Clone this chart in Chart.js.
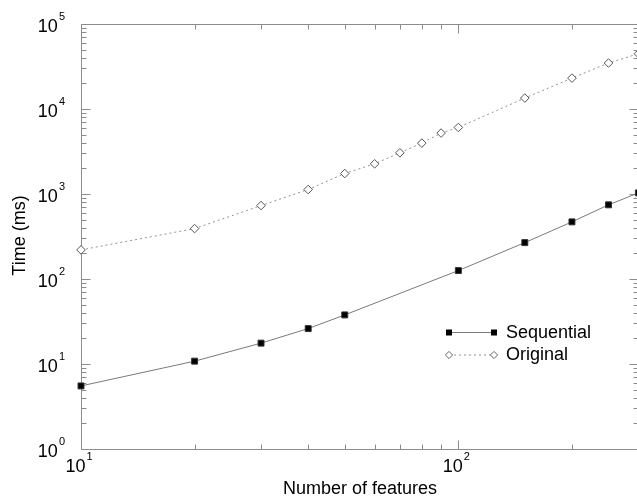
<!DOCTYPE html>
<html><head><meta charset="utf-8">
<script src="https://cdn.jsdelivr.net/npm/chart.js@4"></script>
<style>html,body{margin:0;padding:0;overflow:hidden;background:#fff;width:637px;height:498px}
#clip{position:relative;width:637px;height:498px;overflow:hidden}
#wrap{position:absolute;left:0;top:0;width:640px;height:498px}canvas{display:block}</style>
</head><body>
<div id="clip"><div id="wrap"><canvas id="c"></canvas></div></div>
<script>
// ---- data ----
const seqX  = [10, 20, 30, 40, 50, 100, 150, 200, 250, 300];
const seqY  = [5.52, 10.8, 17.6, 26.1, 37.8, 125.6, 268, 470, 746, 1030];
const origX = [10, 20, 30, 40, 50, 60, 70, 80, 90, 100, 150, 200, 250, 300];
const origY = [220, 392, 731, 1129, 1742, 2266, 3053, 3970, 5210, 6065, 13450, 23100, 34750, 44700];
const seriesNames = ['Sequential', 'Original'];
const xMajorTicks = [10, 100];
const xMajorExps  = ['1', '2'];
const xMinorTicks = [20, 30, 40, 50, 60, 70, 80, 90, 200, 300];
const yMajorTicks = [1, 10, 100, 1000, 10000, 100000];
const yMajorExps  = ['0', '1', '2', '3', '4', '5'];
const yMinorMult  = [2, 3, 4, 5, 6, 7, 8, 9];
const xTitle = 'Number of features';
const yTitle = 'Time (ms)';

const FONT = '"Liberation Sans", Arial, Helvetica, sans-serif';
const AXIS = '#8c8c8c';

const decor = {
  id: 'decor',
  beforeDatasetsDraw(chart) {
    const {ctx, chartArea: a, scales: {x, y}} = chart;
    const L = Math.floor(a.left) + 0.5, R = Math.floor(a.right) + 0.5;
    const T = Math.floor(a.top) + 0.5, B = Math.floor(a.bottom) + 0.5;
    ctx.save();
    ctx.strokeStyle = AXIS; ctx.lineWidth = 1;
    ctx.beginPath();
    ctx.rect(L, T, R - L, B - T);
    const yTick = (v, len) => {
      const py = Math.round(y.getPixelForValue(v)) + 0.5;
      ctx.moveTo(L, py); ctx.lineTo(L + len, py);
      ctx.moveTo(R, py); ctx.lineTo(R - len, py);
    };
    yMajorTicks.forEach(v => yTick(v, 9));
    yMajorTicks.slice(0, -1).forEach(d => yMinorMult.forEach(m => yTick(d * m, 5)));
    const xTick = (v, len) => {
      const px = Math.round(x.getPixelForValue(v)) + 0.5;
      ctx.moveTo(px, B); ctx.lineTo(px, B - len);
      ctx.moveTo(px, T); ctx.lineTo(px, T + len);
    };
    xMajorTicks.forEach(v => xTick(v, 9));
    xMinorTicks.forEach(v => xTick(v, 5));
    ctx.stroke();
    ctx.restore();
  },
  afterDatasetsDraw(chart) {
    const {ctx, chartArea: a, scales: {x, y}} = chart;
    ctx.save();
    ctx.fillStyle = '#000';
    ctx.textBaseline = 'alphabetic';
    ctx.textAlign = 'left';
    const baseF = '18px ' + FONT, expF = '11px ' + FONT;
    const measure = (b, e) => {
      ctx.font = baseF; const bw = ctx.measureText(b).width;
      ctx.font = expF; const ew = ctx.measureText(e).width;
      return [bw, ew];
    };
    const drawPow = (sx, baseY, b, e, bw) => {
      ctx.font = baseF; ctx.fillText(b, sx, baseY);
      ctx.font = expF; ctx.fillText(e, sx + bw + 1, baseY - 12);
    };
    yMajorTicks.forEach((v, i) => {
      const py = y.getPixelForValue(v);
      const [bw, ew] = measure('10', yMajorExps[i]);
      drawPow(65 - (bw + 1 + ew), py + 7.5, '10', yMajorExps[i], bw);
    });
    xMajorTicks.forEach((v, i) => {
      const px = x.getPixelForValue(v);
      const [bw, ew] = measure('10', xMajorExps[i]);
      const w = bw + 1 + ew;
      drawPow(px - 2 - w / 2, a.bottom + 23, '10', xMajorExps[i], bw);
    });
    ctx.font = '18px ' + FONT;
    ctx.textAlign = 'center';
    ctx.fillText(xTitle, 360, 494);
    ctx.save();
    ctx.translate(25, (a.top + a.bottom) / 2 - 1);
    ctx.rotate(-Math.PI / 2);
    ctx.fillText(yTitle, 0, 0);
    ctx.restore();
    const ds = chart.data.datasets;
    const rows = [332, 354.5];
    const x0 = 449, x1 = 494;
    rows.forEach((ry, i) => {
      const d = ds[i];
      ctx.save();
      ctx.strokeStyle = d.borderColor; ctx.lineWidth = 1;
      ctx.setLineDash(d.borderDash || []);
      ctx.beginPath(); ctx.moveTo(x0, ry + 0.5); ctx.lineTo(x1, ry + 0.5); ctx.stroke();
      ctx.setLineDash([]);
      [x0, x1].forEach(mx => {
        if (i === 0) {
          ctx.fillStyle = '#000';
          ctx.fillRect(mx - 3, ry - 2.5, 6, 6);
        } else {
          const r = 3.6;
          ctx.beginPath();
          ctx.moveTo(mx, ry + 0.5 - r); ctx.lineTo(mx + r, ry + 0.5);
          ctx.lineTo(mx, ry + 0.5 + r); ctx.lineTo(mx - r, ry + 0.5); ctx.closePath();
          ctx.fillStyle = '#fff'; ctx.fill();
          ctx.strokeStyle = '#666'; ctx.stroke();
        }
      });
      ctx.restore();
      ctx.font = '18px ' + FONT;
      ctx.textAlign = 'left';
      ctx.fillStyle = '#000';
      ctx.fillText(d.label, 506, ry + 5.5);
    });
    ctx.restore();
  }
};

new Chart(document.getElementById('c'), {
  type: 'line',
  data: {
    datasets: [
      {
        label: seriesNames[0],
        data: seqX.map((v, i) => ({x: v, y: seqY[i]})),
        borderColor: '#7a7a7a', borderWidth: 1,
        pointStyle: 'rect', pointRadius: 4.2,
        pointBackgroundColor: '#000', pointBorderColor: '#333', pointBorderWidth: 1,
        tension: 0, clip: false
      },
      {
        label: seriesNames[1],
        data: origX.map((v, i) => ({x: v, y: origY[i]})),
        borderColor: '#929292', borderWidth: 1, borderDash: [2, 3],
        pointStyle: 'rectRot', pointRadius: 4.3,
        pointBackgroundColor: '#fff', pointBorderColor: '#555', pointBorderWidth: 1,
        tension: 0, clip: false
      }
    ]
  },
  options: {
    responsive: true, maintainAspectRatio: false, animation: false, devicePixelRatio: 1,
    layout: {autoPadding: false, padding: {left: 81, top: 24, right: 1.6, bottom: 49}},
    plugins: {legend: {display: false}, tooltip: {enabled: false}},
    scales: {
      x: {type: 'logarithmic', min: 10, max: 300,
          ticks: {display: false}, grid: {display: false, drawTicks: false}, border: {display: false}},
      y: {type: 'logarithmic', min: 1, max: 100000,
          ticks: {display: false}, grid: {display: false, drawTicks: false}, border: {display: false}}
    }
  },
  plugins: [decor]
});
</script>
</body></html>
